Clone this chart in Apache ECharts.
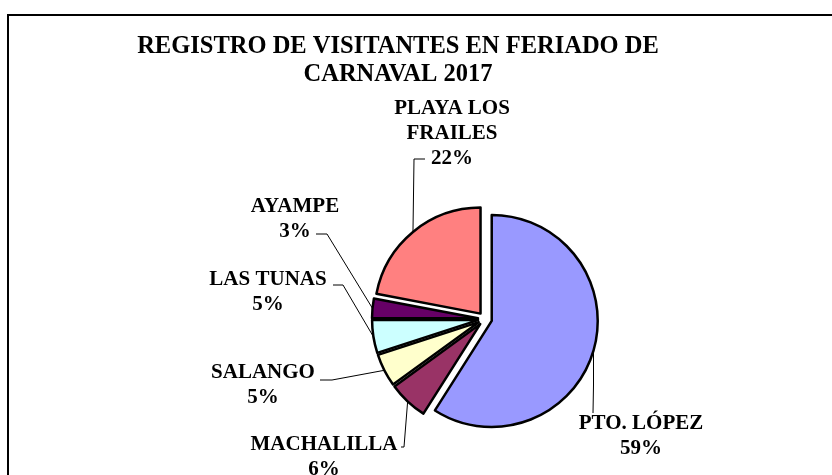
<!DOCTYPE html>
<html>
<head>
<meta charset="utf-8">
<script src="https://cdn.jsdelivr.net/npm/echarts@6/dist/echarts.min.js"></script>
<style>
  html, body { margin: 0; padding: 0; background: #fff; }
  #chart { width: 832px; height: 475px; }
</style>
</head>
<body>
<div id="chart"></div>
<script>
// datos del gráfico
const categorias = ['PTO. LÓPEZ', 'MACHALILLA', 'SALANGO', 'LAS TUNAS', 'AYAMPE', 'PLAYA LOS\nFRAILES'];
const porcentajes = [59, 6, 5, 5, 3, 22];
const colores = ['#9999FF', '#993366', '#FFFFCC', '#CCFFFF', '#660066', '#FF8080'];

// posición de las etiquetas y de sus líneas guía (px)
const posEtiquetas = [[641, 436], [324, 457], [263, 385.5], [268, 292.5], [295, 219], [452, 134]];
const codoLinea = [[593.5, 385], [404, 447], [332, 380], [343, 285], [327, 234], [414, 159]];
const finLinea = [[593, 413], [401, 447], [320, 380], [333, 285], [316, 234], [425, 159]];

const fuente = 'Liberation Serif, Times New Roman, serif';
const centro = [485, 319];
const radio = 106;
const separacion = 7; // porciones separadas del centro

const chart = echarts.init(document.getElementById('chart'));

const total = porcentajes.reduce((a, b) => a + b, 0);

// una serie por porción, desplazada según su ángulo medio (efecto "explotado")
let acumulado = 0;
const series = categorias.map((nombre, k) => {
  const medio = (acumulado + porcentajes[k] / 2) / total * Math.PI * 2;
  acumulado += porcentajes[k];
  const c = [centro[0] + separacion * Math.sin(medio), centro[1] - separacion * Math.cos(medio)];
  return {
    type: 'pie',
    center: c,
    radius: radio,
    startAngle: 90,
    clockwise: true,
    avoidLabelOverlap: false,
    silent: true,
    emphasis: { disabled: true },
    label: {
      show: true,
      position: 'outside',
      formatter: p => p.name + '\n' + Math.round(p.percent) + '%',
      fontFamily: fuente,
      fontSize: 21,
      fontWeight: 'bold',
      lineHeight: 25,
      color: '#000',
      align: 'center'
    },
    labelLine: {
      show: true,
      length: 10,
      length2: 10,
      lineStyle: { color: '#000', width: 1 }
    },
    labelLayout: function (params) {
      const i = params.dataIndex;
      const pos = posEtiquetas[i];
      const res = { x: pos[0], y: pos[1], align: 'center', verticalAlign: 'middle' };
      if (params.labelLinePoints) {
        const p0 = params.labelLinePoints[0];
        res.labelLinePoints = [[p0[0], p0[1]], codoLinea[i].slice(), finLinea[i].slice()];
      }
      return res;
    },
    data: categorias.map((n, i) => {
      if (i === k) {
        return {
          name: n,
          value: porcentajes[i],
          itemStyle: { color: colores[i], borderColor: '#000', borderWidth: 2.5 }
        };
      }
      return {
        name: n,
        value: porcentajes[i],
        itemStyle: { color: 'rgba(0,0,0,0)', borderWidth: 0 },
        label: { show: false },
        labelLine: { show: false }
      };
    })
  };
});

chart.setOption({
  animation: false,
  title: {
    text: 'REGISTRO DE VISITANTES EN FERIADO DE\nCARNAVAL 2017',
    left: 393,
    top: 28,
    textAlign: 'center',
    textStyle: {
      fontFamily: fuente,
      fontSize: 24.5,
      fontWeight: 'bold',
      lineHeight: 28,
      color: '#000'
    }
  },
  graphic: [
    {
      type: 'rect',
      shape: { x: 8, y: 15, width: 1000, height: 1000 },
      style: { fill: 'none', stroke: '#000', lineWidth: 2 },
      silent: true
    }
  ],
  series: series
});
</script>
</body>
</html>
